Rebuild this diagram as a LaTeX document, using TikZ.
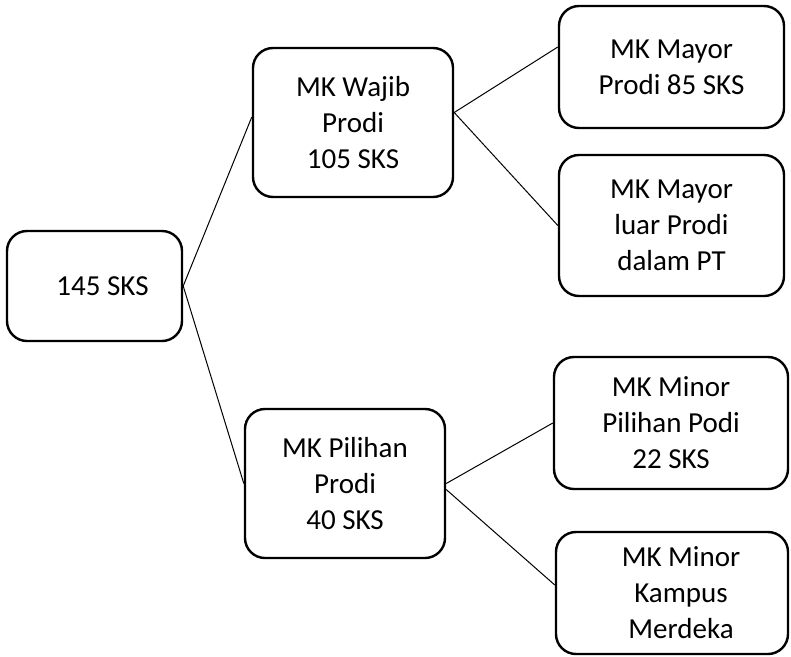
\documentclass[tikz,border=0pt]{standalone}
\usepackage{fontspec}
\setmainfont{Carlito}
\begin{document}
\begin{tikzpicture}[x=1pt,y=-1pt,
  box/.style={draw, line width=2.4pt, rounded corners=20pt, align=center, inner sep=0pt, font=\fontsize{29}{36}\selectfont},
  link/.style={line width=1pt}]
\useasboundingbox (0,0) rectangle (791,656);
\node[box, minimum width=175pt, minimum height=110pt] (root) at (94.5,286) {\hspace*{16pt}145 SKS};
\node[box, minimum width=200pt, minimum height=149pt] (wajib) at (353,122.5) {MK Wajib\\Prodi\\105 SKS};
\node[box, minimum width=200pt, minimum height=149pt] (pilihan) at (345,483.5) {MK Pilihan\\Prodi\\40 SKS};
\node[box, minimum width=225pt, minimum height=122pt] (mayor) at (671.5,67) {MK Mayor\\Prodi 85 SKS};
\node[box, minimum width=225pt, minimum height=141pt] (luar) at (671.5,225.5) {MK Mayor\\luar Prodi\\dalam PT};
\node[box, minimum width=234pt, minimum height=132pt] (minor) at (671,423) {MK Minor\\Pilihan Podi\\22 SKS};
\node[box, minimum width=232pt, minimum height=122pt] (merdeka) at (672,593) {\hspace*{18pt}MK Minor\\\hspace*{18pt}Kampus\\\hspace*{18pt}Merdeka};
\draw[link] (root.east) -- ([yshift=5.5pt]wajib.west);
\draw[link] (root.east) -- (pilihan.west);
\draw[link] ([yshift=10pt]wajib.east) -- ([yshift=20pt]mayor.west);
\draw[link] ([yshift=10pt]wajib.east) -- (luar.west);
\draw[link] (pilihan.east) -- (minor.west);
\draw[link] ([yshift=-6pt]pilihan.east) -- ([yshift=8pt]merdeka.west);
\end{tikzpicture}
\end{document}
